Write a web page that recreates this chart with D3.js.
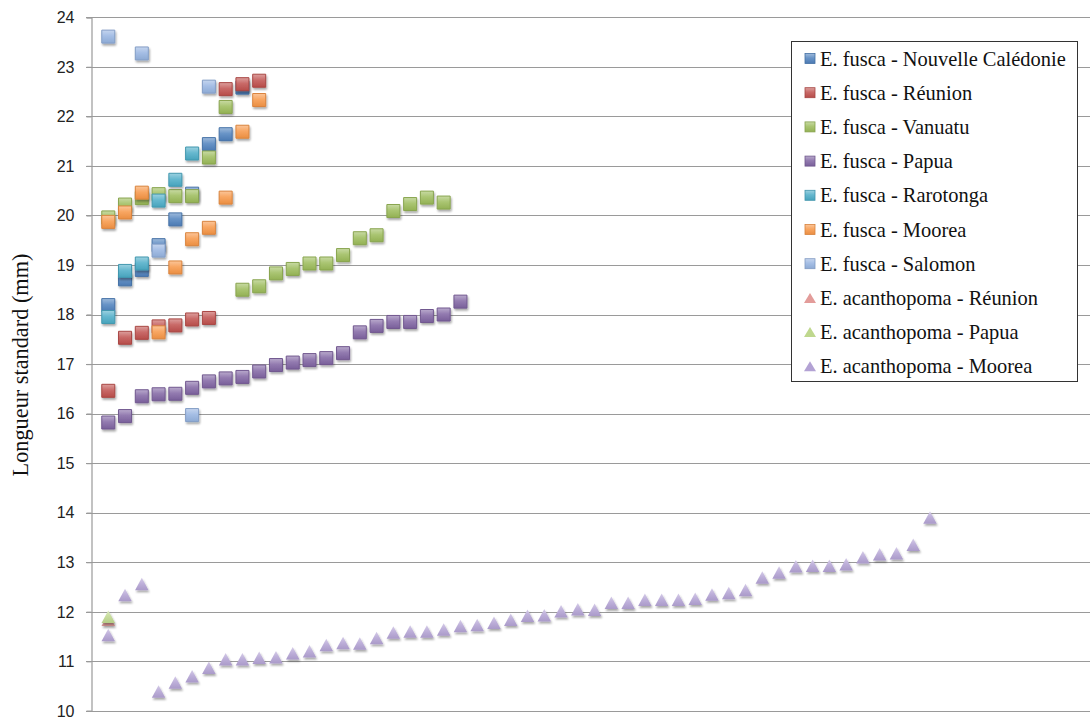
<!DOCTYPE html>
<html><head><meta charset="utf-8">
<script src="https://cdn.jsdelivr.net/npm/d3@7"></script>
<style>html,body{margin:0;padding:0;background:#fff;}svg{display:block;}
.serif{font-family:"Liberation Serif","Tinos","Times New Roman",Times,"Nimbus Roman","Nimbus Roman No9 L","FreeSerif","DejaVu Serif","Noto Serif",serif;}
.sans{font-family:"Liberation Sans",Arial,Helvetica,"DejaVu Sans",sans-serif;}
</style>
</head><body>
<svg id="chart" width="1090" height="717"></svg>
<script>
// ---- data (index 1..n along x; null = no point) ----
const seriesNames = [
  "E. fusca - Nouvelle Calédonie", "E. fusca - Réunion", "E. fusca - Vanuatu",
  "E. fusca - Papua", "E. fusca - Rarotonga", "E. fusca - Moorea", "E. fusca - Salomon",
  "E. acanthopoma - Réunion", "E. acanthopoma - Papua", "E. acanthopoma - Moorea"
];
const fuscaNouvelleCaledonie = [18.19, 18.71, 18.90, 19.40, 19.92, 20.44, 21.44, 21.64, 22.58];
const fuscaReunion = [16.46, 17.53, 17.63, 17.76, 17.78, 17.90, 17.93, 22.55, 22.65, 22.72];
const fuscaVanuatu = [19.96, 20.22, 20.35, 20.43, 20.39, 20.39, 21.17, 22.19, 18.50, 18.57, 18.83,
  18.92, 19.03, 19.03, 19.20, 19.54, 19.60, 20.09, 20.23, 20.36, 20.26];
const fuscaPapua = [15.82, 15.95, 16.35, 16.39, 16.40, 16.52, 16.65, 16.71, 16.74, 16.85, 16.98,
  17.03, 17.08, 17.12, 17.22, 17.64, 17.77, 17.85, 17.85, 17.97, 18.00, 18.26];
const fuscaRarotonga = [17.95, 18.88, 19.03, 20.30, 20.72, 21.25];
const fuscaMoorea = [19.87, 20.06, 20.46, 17.64, 18.95, 19.52, 19.75, 20.36, 21.69, 22.33];
const fuscaSalomon = [23.61, null, 23.27, 19.29, null, 15.97, 22.60];
const acanthopomaReunion = [11.84];
const acanthopomaPapua = [11.90];
const acanthopomaMoorea = [11.53, 12.34, 12.56, 10.39, 10.57, 10.70, 10.87, 11.04, 11.04, 11.07,
  11.08, 11.16, 11.20, 11.33, 11.37, 11.36, 11.47, 11.58, 11.60, 11.60,
  11.64, 11.71, 11.73, 11.78, 11.84, 11.92, 11.93, 12.01, 12.05, 12.04,
  12.18, 12.18, 12.24, 12.24, 12.24, 12.26, 12.35, 12.38, 12.44, 12.69,
  12.79, 12.92, 12.93, 12.93, 12.96, 13.10, 13.16, 13.18, 13.35, 13.90];
const yTicks = [10, 11, 12, 13, 14, 15, 16, 17, 18, 19, 20, 21, 22, 23, 24];

const seriesValues = [fuscaNouvelleCaledonie, fuscaReunion, fuscaVanuatu, fuscaPapua, fuscaRarotonga,
  fuscaMoorea, fuscaSalomon, acanthopomaReunion, acanthopomaPapua, acanthopomaMoorea];
const seriesColors = ["#4F81BD", "#C0504D", "#9BBB59", "#8064A2", "#4BACC6", "#F79646", "#95B3E0",
  "#E39C9A", "#BFD88E", "#B3A2D4"];
const seriesShapes = ["square","square","square","square","square","square","square","triangle","triangle","triangle"];

const series = seriesNames.map((name, i) => ({
  name, color: seriesColors[i], shape: seriesShapes[i], id: i,
  points: seriesValues[i].map((v, j) => ({x: j + 1, y: v})).filter(p => p.y !== null)
}));

// ---- layout ----
const svg = d3.select("#chart");
const x = d3.scaleLinear().domain([0, 60]).range([91.5, 1097.7]);
const y = d3.scaleLinear().domain([10, 24]).range([710.8, 17.3]);

const defs = svg.append("defs");
const filt = defs.append("filter").attr("id", "shadow").attr("x", "-50%").attr("y", "-50%").attr("width", "200%").attr("height", "200%");
filt.append("feGaussianBlur").attr("in", "SourceAlpha").attr("stdDeviation", 1.3).attr("result", "b");
filt.append("feOffset").attr("in", "b").attr("dx", 0.8).attr("dy", 1.6).attr("result", "o");
filt.append("feComponentTransfer").attr("in", "o").attr("result", "o2")
  .append("feFuncA").attr("type", "linear").attr("slope", 0.35);
const merge = filt.append("feMerge");
merge.append("feMergeNode").attr("in", "o2");
merge.append("feMergeNode").attr("in", "SourceGraphic");

series.forEach(s => {
  const c = d3.color(s.color);
  const g = defs.append("linearGradient").attr("id", "grad" + s.id)
    .attr("x1", 0).attr("y1", 0).attr("x2", 0).attr("y2", 1);
  g.append("stop").attr("offset", "0%").attr("stop-color", d3.interpolateRgb(c, "#fff")(0.45));
  g.append("stop").attr("offset", "45%").attr("stop-color", d3.interpolateRgb(c, "#fff")(0.15));
  g.append("stop").attr("offset", "100%").attr("stop-color", c.darker(0.15));
});

// gridlines
svg.append("g").selectAll("line").data(yTicks).join("line")
  .attr("x1", 86).attr("x2", 1090)
  .attr("y1", d => Math.round(y(d)) + 0.5).attr("y2", d => Math.round(y(d)) + 0.5)
  .attr("stroke", "#9a9a9a").attr("stroke-width", 1.2);

// y axis
const yAxis = d3.axisLeft(y).tickValues(yTicks).tickSize(5).tickPadding(12).tickFormat(d3.format("d"));
const ag = svg.append("g").attr("transform", "translate(91.5,0)").call(yAxis);
ag.attr("font-family", null).attr("font-size", null);
ag.select(".domain").attr("stroke", "#9a9a9a").attr("stroke-width", 1.2);
ag.selectAll(".tick line").attr("stroke", "#9a9a9a").attr("stroke-width", 1.2);
ag.selectAll(".tick text").attr("class", "sans")
  .style("font-size", "16px").attr("fill", "#222").attr("dy", "0.33em");

// y axis title (fit to reference length ~223px)
const yTitle = svg.append("text").attr("class", "serif").attr("transform", "translate(28,365) rotate(-90)")
  .attr("text-anchor", "middle").style("font-size", "19px").attr("fill", "#111")
  .text("Longueur standard (mm)");
{
  const w = yTitle.node().getComputedTextLength();
  if (w > 0) yTitle.style("font-size", Math.max(16, Math.min(23, 19 * 223 / w)) + "px");
}

// markers
const SQ = 13, TW = 13.5, TH = 12.5;
function markerPath(shape, cx, cy) {
  if (shape === "square") {
    return `M${cx - SQ/2},${cy - SQ/2}h${SQ}v${SQ}h${-SQ}Z`;
  }
  return `M${cx},${cy - TH/2}L${cx + TW/2},${cy + TH/2}L${cx - TW/2},${cy + TH/2}Z`;
}

const mg = svg.append("g");
series.forEach(s => {
  mg.append("g").selectAll("path").data(s.points).join("path")
    .attr("d", p => markerPath(s.shape, x(p.x), y(p.y)))
    .attr("fill", `url(#grad${s.id})`)
    .attr("stroke", s.shape === "square" ? d3.color(s.color).darker(0.35) : "none")
    .attr("stroke-width", 1)
    .attr("filter", "url(#shadow)");
});

// legend
const lg = svg.append("g");
lg.append("rect").attr("x", 791.5).attr("y", 41.5).attr("width", 286).attr("height", 340)
  .attr("fill", "#fff").attr("stroke", "#333").attr("stroke-width", 1);
const rowY = i => 58.5 + i * 34.2;
const legendTexts = [];
series.forEach((s, i) => {
  const cy = rowY(i);
  if (s.shape === "square") {
    lg.append("rect").attr("x", 805).attr("y", cy - 5).attr("width", 10).attr("height", 10)
      .attr("fill", `url(#grad${s.id})`).attr("stroke", d3.color(s.color).darker(0.4)).attr("stroke-width", 0.8);
  } else {
    lg.append("path").attr("d", `M${810},${cy - 5}L${816},${cy + 5}L${804},${cy + 5}Z`)
      .attr("fill", s.color);
  }
  legendTexts.push(lg.append("text").attr("class", "serif").attr("x", 820).attr("y", cy).attr("dy", "0.35em")
    .style("font-size", "17.5px").attr("fill", "#111").text(s.name));
});
// fit widest legend label to the reference width (~246px)
{
  const w = legendTexts[0].node().getComputedTextLength();
  if (w > 0) {
    const fs = Math.max(15, Math.min(21, 17.5 * 246 / w));
    legendTexts.forEach(t => t.style("font-size", fs + "px"));
  }
}
</script>
</body></html>
